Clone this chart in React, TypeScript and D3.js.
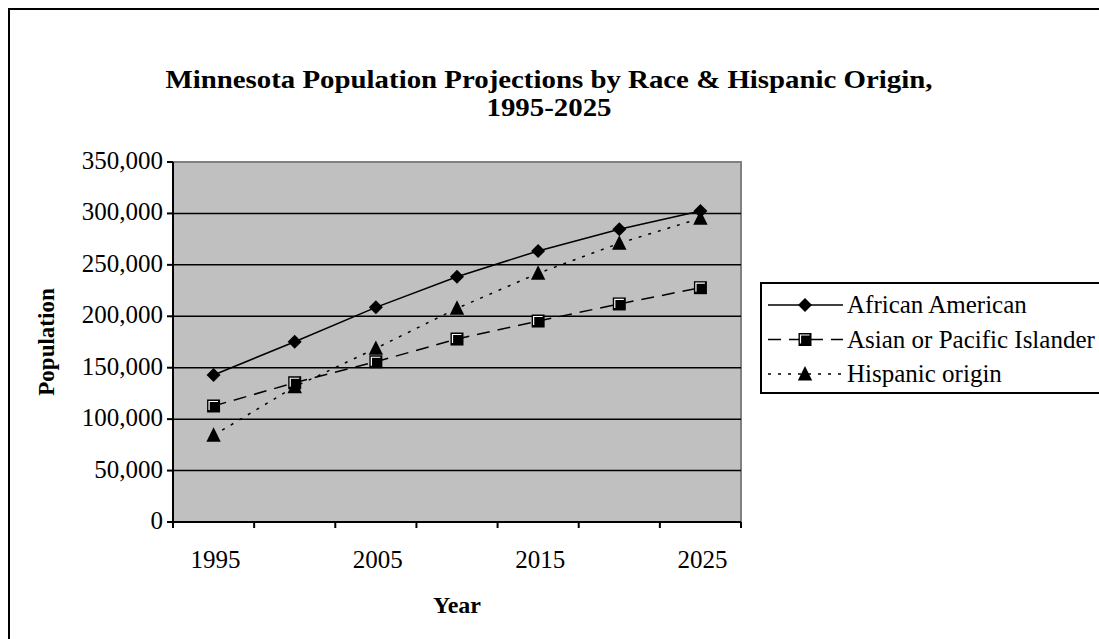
import React from "react";
import * as d3 from "d3";

const years = ["1995", "2000", "2005", "2010", "2015", "2020", "2025"];
const tickYears = ["1995", "2005", "2015", "2025"];
const africanAmerican = [142900, 175300, 208700, 238500, 263500, 284600, 302400];
const asianPacific = [112800, 135400, 155800, 177900, 195400, 212000, 227800];
const hispanic = [84300, 131500, 168800, 207700, 241800, 271000, 295300];
const yTicks = [0, 50000, 100000, 150000, 200000, 250000, 300000, 350000];
const seriesNames = ["African American", "Asian or Pacific Islander", "Hispanic origin"];
const titleLines = ["Minnesota Population Projections by Race & Hispanic Origin,", "1995-2025"];

const W = 1099, H = 639;
const L = 173, R = 741, T = 162, B = 522;
const FONT = "'Liberation Serif', 'Times New Roman', serif";

function Marker({ kind, x, y }: { kind: number; x: number; y: number }) {
  if (kind === 0) {
    const s = 7;
    return <path d={`M${x},${y - s}L${x + s},${y}L${x},${y + s}L${x - s},${y}Z`} fill="#000" />;
  }
  if (kind === 1) {
    return (
      <g>
        <rect x={x - 6.5} y={y - 6.5} width={13} height={13} fill="#000" />
        <path d={`M${x - 4.5},${y + 4}V${y - 4.5}H${x + 4.5}`} fill="none" stroke="#fff" strokeWidth={1.2} />
      </g>
    );
  }
  const s = 8;
  return <path d={`M${x},${y - s}L${x + s * 0.9},${y + s * 0.8}L${x - s * 0.9},${y + s * 0.8}Z`} fill="#000" />;
}

export default function App() {
  const x = d3.scaleBand<string>().domain(years).range([L, R]);
  const y = d3.scaleLinear().domain([0, 350000]).range([B, T]);
  const fmt = d3.format(",");
  const line = d3
    .line<number>()
    .x((_, i) => (x(years[i]) as number) + x.bandwidth() / 2)
    .y((d) => y(d));
  const series = [africanAmerican, asianPacific, hispanic];
  const dashes = ["none", "13 8", "3 7"];
  const tickXs = years.map((yr) => x(yr) as number).concat([R]);

  return (
    <svg width={W} height={H} style={{ position: "absolute", left: 0, top: 0 }} fontFamily={FONT}>
      <rect x={0} y={0} width={W} height={H} fill="#fff" />
      <rect x={9} y={9} width={W + 10} height={H + 10} fill="none" stroke="#000" strokeWidth={2} />
      {titleLines.map((t, i) => (
        <text
          key={i}
          transform={`translate(549,${88 + i * 28}) scale(1.11,1)`}
          textAnchor="middle"
          fontWeight="bold"
          fontSize={26}
        >
          {t}
        </text>
      ))}

      <rect x={L} y={T} width={R - L} height={B - T} fill="#c0c0c0" stroke="#808080" strokeWidth={2} />
      {yTicks.slice(1, -1).map((t) => (
        <line key={t} x1={L} x2={R} y1={y(t)} y2={y(t)} stroke="#000" strokeWidth={1.5} />
      ))}
      <line x1={L} x2={L} y1={T} y2={B} stroke="#000" strokeWidth={2} />
      <line x1={L} x2={R} y1={B} y2={B} stroke="#000" strokeWidth={2} />
      {yTicks.map((t) => (
        <g key={t}>
          <line x1={L - 6} x2={L} y1={y(t)} y2={y(t)} stroke="#000" strokeWidth={2} />
          <text x={L - 10} y={y(t) + 7} textAnchor="end" fontSize={25}>
            {fmt(t)}
          </text>
        </g>
      ))}
      {tickXs.map((tx, i) => (
        <line key={i} x1={tx} x2={tx} y1={B} y2={B + 6} stroke="#000" strokeWidth={2} />
      ))}
      {tickYears.map((yr) => (
        <text key={yr} x={(x(yr) as number) + x.bandwidth() / 2 + 2} y={568} textAnchor="middle" fontSize={25}>
          {yr}
        </text>
      ))}
      <text x={457} y={613} textAnchor="middle" fontWeight="bold" fontSize={24}>
        Year
      </text>
      <text transform={`translate(54,342) rotate(-90)`} textAnchor="middle" fontWeight="bold" fontSize={23}>
        Population
      </text>

      {series.map((s, k) => (
        <path key={k} d={line(s) || ""} fill="none" stroke="#000" strokeWidth={1.5} strokeDasharray={dashes[k]} />
      ))}
      {series.map((s, k) =>
        s.map((v, i) => (
          <Marker key={`${k}-${i}`} kind={k} x={(x(years[i]) as number) + x.bandwidth() / 2} y={y(v)} />
        ))
      )}

      <rect x={761} y={283} width={345} height={110} fill="#fff" stroke="#000" strokeWidth={2} />
      {seriesNames.map((n, k) => {
        const ly = 305 + k * 34.5;
        return (
          <g key={n}>
            <line x1={768} x2={843} y1={ly} y2={ly} stroke="#000" strokeWidth={1.5} strokeDasharray={dashes[k]} />
            <Marker kind={k} x={805} y={ly} />
            <text x={847} y={ly + 8} fontSize={25}>
              {n}
            </text>
          </g>
        );
      })}
    </svg>
  );
}
